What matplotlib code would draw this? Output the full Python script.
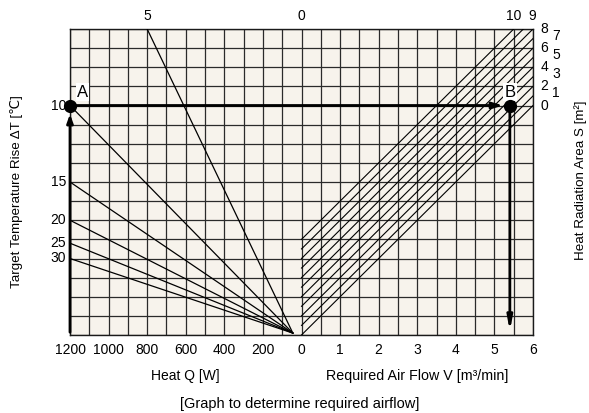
import matplotlib
matplotlib.use("Agg")
import matplotlib.pyplot as plt

plt.rcParams['font.family'] = ['Liberation Sans', 'DejaVu Sans']
FS = 10

# bottom scales (grid is 24 cells wide, 16 rows tall)
heat_ticks = [1200, 1000, 800, 600, 400, 200, 0]      # W, 100 W per cell
flow_ticks = [1, 2, 3, 4, 5, 6]                        # m3/min, 0.5 per cell

# target temperature rise lines: label, end point (Q in W, row)
dt_labels = ['5', '10', '15', '20', '25', '30']
dt_end_q = [800, 1200, 1200, 1200, 1200, 1200]
dt_end_row = [16, 12, 8, 6, 4.8, 4]
dt_left_labels = ['10', '15', '20', '25', '30']
dt_left_rows = [12, 8, 6, 4.8, 4]
focus_q, focus_row = 45, 0.1    # where the temperature lines meet

# heat radiation area lines (row where each crosses V = 0)
area_values = list(range(11))
area_start_row = [0, 0.5, 1, 1.5, 2, 2.5, 3, 3.5, 4, 4.5, 5]

# worked example: A -> B
point_a_q, point_a_row = 1200, 12
point_b_v = 5.4


def qx(q):
    return -q / 100.0


def vx(v):
    return v * 2.0


fig = plt.figure(figsize=(5.89, 4.13), dpi=100)
ax = fig.add_axes([70 / 589, (413 - 335) / 413, 463 / 589, 306 / 413])
ax.set_facecolor('#f7f3ec')
ax.set_xlim(-12, 12)
ax.set_ylim(0, 16)

# grid every cell, labels every second cell
ax.set_xticks(range(-12, 13))
labels = [''] * 25
for q in heat_ticks:
    labels[int(qx(q)) + 12] = str(q)
for v in flow_ticks:
    labels[int(vx(v)) + 12] = str(v)
ax.set_xticklabels(labels, fontsize=FS)
ax.set_yticks(range(0, 17))
ax.set_yticklabels([])
ax.tick_params(length=0, pad=6)
ax.grid(True, color='#2a2a2a', linewidth=0.9)
ax.set_axisbelow(True)
for sp in ax.spines.values():
    sp.set_color('#1a1a1a')
    sp.set_linewidth(1.0)

# temperature rise lines
for q, r in zip(dt_end_q, dt_end_row):
    ax.plot([qx(focus_q), qx(q)], [focus_row, r], color='black', lw=0.9, zorder=3)

# heat radiation area hatch
for s0 in area_start_row:
    ax.plot([0, 20], [s0, s0 + 20], color='black', lw=0.8, zorder=3)

# example path
ax.annotate('', xy=(qx(point_a_q), point_a_row - 0.3), xytext=(qx(point_a_q), 0),
            arrowprops=dict(arrowstyle='-|>,head_length=0.5,head_width=0.18', color='black', lw=2),
            annotation_clip=False, zorder=5)
ax.annotate('', xy=(vx(point_b_v) - 0.2, point_a_row), xytext=(qx(point_a_q), point_a_row),
            arrowprops=dict(arrowstyle='-|>,head_length=0.6,head_width=0.18', color='black', lw=2),
            zorder=5)
ax.annotate('', xy=(vx(point_b_v), 0.05), xytext=(vx(point_b_v), point_a_row),
            arrowprops=dict(arrowstyle='-|>,head_length=0.8,head_width=0.15', color='black', lw=2),
            zorder=5)
ax.plot([qx(point_a_q), vx(point_b_v)], [point_a_row, point_a_row], 'o', color='black',
        ms=8.5, clip_on=False, zorder=6)
box = dict(facecolor='white', edgecolor='none', pad=1)
ax.text(qx(point_a_q) + 0.65, point_a_row + 0.3, 'A', fontsize=12, ha='center', va='bottom',
        bbox=box, zorder=4)
ax.text(vx(point_b_v), point_a_row + 0.3, 'B', fontsize=12, ha='center', va='bottom',
        bbox=box, zorder=4)

# left temperature labels
for lab, r in zip(dt_left_labels, dt_left_rows):
    ax.text(-12.2, r, lab, fontsize=FS, ha='right', va='center')

# top labels
ax.text(qx(800), 16.3, '5', fontsize=FS, ha='center', va='bottom')
ax.text(0, 16.3, '0', fontsize=FS, ha='center', va='bottom')
ax.text(11.0, 16.3, '10', fontsize=FS, ha='center', va='bottom')
ax.text(11.95, 16.3, '9', fontsize=FS, ha='center', va='bottom')

# right area labels
for s, s0 in zip(area_values, area_start_row):
    if s > 8:
        continue
    r = 12 + s0
    x = 12.6 if s % 2 == 0 else 13.2
    ax.text(x, r + (0.15 if s % 2 else 0), str(s), fontsize=FS, ha='center', va='center')

# axis titles
fig.text(185 / 589, 1 - 376 / 413, 'Heat Q [W]', fontsize=FS, ha='center', va='center')
fig.text(417 / 589, 1 - 376 / 413, 'Required Air Flow V [m³/min]', fontsize=10.3,
         ha='center', va='center')
fig.text(300 / 589, 1 - 404 / 413, '[Graph to determine required airflow]', fontsize=10.5,
         ha='center', va='center')
fig.text(17 / 589, 1 - 192 / 413, 'Target Temperature Rise ΔT [℃]', fontsize=9.6,
         rotation=90, ha='center', va='center')
fig.text(581 / 589, 1 - 180 / 413, 'Heat Radiation Area S [m²]', fontsize=9.6,
         rotation=90, ha='center', va='center')

fig.savefig('out.png', dpi=100, facecolor='white')
